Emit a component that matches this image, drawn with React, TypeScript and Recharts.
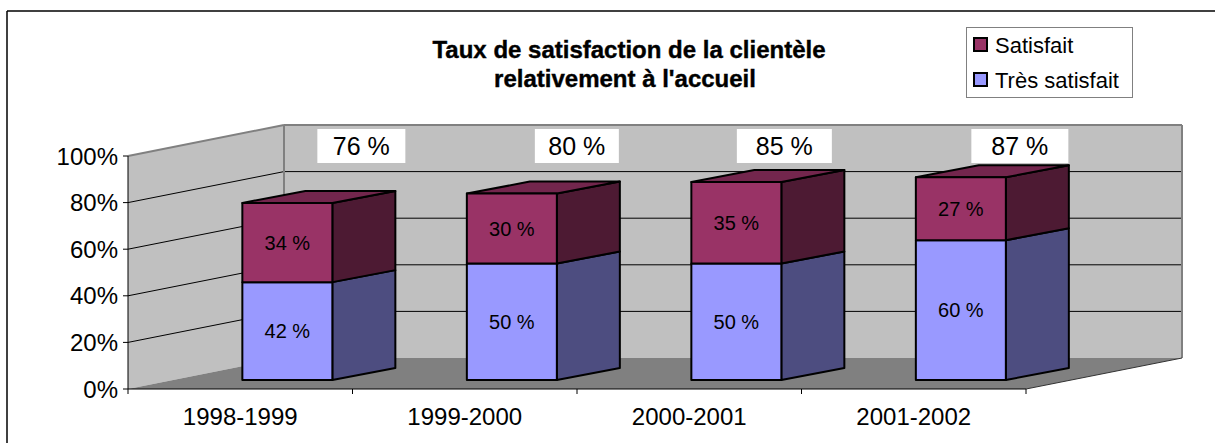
import { Bar, BarChart, LabelList, XAxis, YAxis } from 'recharts'

const years = ['1998-1999', '1999-2000', '2000-2001', '2001-2002']
const tresSatisfait = [42, 50, 50, 60]
const satisfait = [34, 30, 35, 27]
const yTicks = [0, 20, 40, 60, 80, 100]
const seriesNames = ['Satisfait', 'Très satisfait']

// layout of the fake 3d plot
const W = 1215
const H = 443
const LEFT = 128
const RIGHT = 1026
const TOP = 156
const BOTTOM = 389
const DEPTH_X = 156
const DEPTH_Y = -31
const BAR_SHIFT_X = 47
const BAR_SHIFT_Y = -9
const BAR_DX = 63
const BAR_DY = -12
const BAND = (RIGHT - LEFT) / years.length
// the total boxes in the original were nudged by hand
const totalNudge = [11, 2, -15, -4]
const totalWidth = [88, 84, 95, 97]

const colors = {
  tres: { front: '#9999ff', side: '#4d4d80', top: '#7373bf' },
  sat: { front: '#993366', side: '#4d1a33', top: '#73264d' },
}

const FONT = '"Liberation Sans", Arial, sans-serif'

const data = years.map((year, i) => ({ year, tres: tresSatisfait[i], sat: satisfait[i] }))
const totals = years.map((_, i) => tresSatisfait[i] + satisfait[i])

const yPix = (v: number) => BOTTOM - (v / 100) * (BOTTOM - TOP)

function Box3D(props: any) {
  const { x, y, width, height, c, showTop } = props
  const fx = x + BAR_SHIFT_X
  const fy = y + BAR_SHIFT_Y
  const w = width
  const h = height
  const side = `${fx + w},${fy} ${fx + w + BAR_DX},${fy + BAR_DY} ${fx + w + BAR_DX},${fy + h + BAR_DY} ${fx + w},${fy + h}`
  const top = `${fx},${fy} ${fx + BAR_DX},${fy + BAR_DY} ${fx + w + BAR_DX},${fy + BAR_DY} ${fx + w},${fy}`
  return (
    <g stroke="#000" strokeWidth={2} strokeLinejoin="round">
      <polygon points={side} fill={c.side} />
      {showTop && <polygon points={top} fill={c.top} />}
      <rect x={fx} y={fy} width={w} height={h} fill={c.front} />
    </g>
  )
}

const innerLabel = (values: number[]) => (props: any) => {
  const vb = props.viewBox || props
  const { x, y, width, height } = vb
  return (
    <text x={x + BAR_SHIFT_X + width / 2} y={y + BAR_SHIFT_Y + height / 2} textAnchor="middle"
      dominantBaseline="central" fontSize={20} fill="#000" fontFamily={FONT}>
      {values[props.index]} %
    </text>
  )
}

const totalLabel = (props: any) => {
  const vb = props.viewBox || props
  const { x, width } = vb
  const i = props.index
  const cx = x + BAR_SHIFT_X + width / 2 + BAR_DX + totalNudge[i]
  const bw = totalWidth[i]
  return (
    <g>
      <rect x={cx - bw / 2} y={TOP - 27} width={bw} height={34} fill="#fff" />
      <text x={cx} y={TOP - 10} textAnchor="middle" dominantBaseline="central" fontSize={25}
        fill="#000" fontFamily={FONT}>
        {totals[i]} %
      </text>
    </g>
  )
}

const XTick = (props: any) => {
  const { x, y, payload, index } = props
  return (
    <g>
      <line x1={x - BAND / 2} y1={BOTTOM} x2={x - BAND / 2} y2={BOTTOM + 5} stroke="#000" />
      {index === years.length - 1 && (
        <line x1={x + BAND / 2} y1={BOTTOM} x2={x + BAND / 2} y2={BOTTOM + 5} stroke="#000" />
      )}
      <text x={x} y={y + 11} dy="0.71em" textAnchor="middle" fontSize={24} fill="#000" fontFamily={FONT}>
        {payload.value}
      </text>
    </g>
  )
}

function Backdrop() {
  const bx = LEFT + DEPTH_X
  const bTop = TOP + DEPTH_Y
  const bBottom = BOTTOM + DEPTH_Y
  const bRight = RIGHT + DEPTH_X
  return (
    <svg width={W} height={H} style={{ position: 'absolute', left: 0, top: 0 }}>
      <line x1={7} y1={11} x2={W} y2={11} stroke="#000" strokeWidth={1.5} />
      <line x1={7} y1={11} x2={7} y2={H} stroke="#000" strokeWidth={1.5} />

      <polygon points={`${LEFT},${TOP} ${bx},${bTop} ${bx},${bBottom} ${LEFT},${BOTTOM}`} fill="#c0c0c0" />
      <rect x={bx} y={bTop} width={bRight - bx} height={bBottom - bTop} fill="#c0c0c0" />
      <polygon points={`${LEFT},${BOTTOM} ${RIGHT},${BOTTOM} ${bRight},${bBottom} ${bx},${bBottom}`} fill="#808080" />

      {yTicks.slice(1, -1).map((v) => (
        <g key={v} stroke="#000" strokeWidth={1}>
          <line x1={LEFT} y1={yPix(v)} x2={bx} y2={yPix(v) + DEPTH_Y} />
          <line x1={bx} y1={yPix(v) + DEPTH_Y} x2={bRight} y2={yPix(v) + DEPTH_Y} />
        </g>
      ))}

      <g stroke="#808080" strokeWidth={2} fill="none">
        <line x1={LEFT} y1={TOP} x2={bx} y2={bTop} />
        <line x1={bx} y1={bTop} x2={bRight} y2={bTop} />
        <line x1={bRight} y1={bTop} x2={bRight} y2={bBottom} />
        <line x1={bx} y1={bTop} x2={bx} y2={bBottom} />
      </g>
      <line x1={RIGHT} y1={BOTTOM} x2={bRight} y2={bBottom} stroke="#333" strokeWidth={1} />

      <g fontFamily={FONT} fontWeight="bold" fontSize={24} textAnchor="middle" fill="#000" stroke="#000" strokeWidth={0.4}>
        <text x={629} y={58}>Taux de satisfaction de la clientèle</text>
        <text x={625} y={87}>relativement à l'accueil</text>
      </g>

      <rect x={966.5} y={27.5} width={166} height={70} fill="#fff" stroke="#808080" strokeWidth={1} />
      {seriesNames.map((name, i) => (
        <g key={name}>
          <rect x={974} y={38 + i * 35} width={13} height={13} fill={i === 0 ? colors.sat.front : colors.tres.front}
            stroke="#000" strokeWidth={2} />
          <text x={995} y={45 + i * 35} dominantBaseline="central" fontSize={22} fontFamily={FONT} fill="#000">
            {name}
          </text>
        </g>
      ))}
    </svg>
  )
}

export default function App() {
  return (
    <div style={{ position: 'absolute', left: 0, top: 0, width: W, height: H, fontFamily: FONT, background: '#fff' }}>
      <Backdrop />
      <div style={{ position: 'absolute', left: 0, top: 0 }}>
        <BarChart width={W} height={H} data={data} margin={{ top: TOP, right: W - RIGHT, left: 0, bottom: 0 }}
          barCategoryGap="30%">
          <XAxis dataKey="year" height={H - BOTTOM} axisLine={{ stroke: '#000' }} tickLine={false}
            tick={<XTick />} interval={0} />
          <YAxis width={LEFT} domain={[0, 100]} ticks={yTicks} tickFormatter={(v) => `${v}%`}
            axisLine={{ stroke: '#000' }} tickLine={{ stroke: '#000' }} tickSize={5} tickMargin={5}
            tick={{ fontSize: 24, fill: '#000' }} interval={0} />
          <Bar dataKey="tres" name={seriesNames[1]} stackId="a" isAnimationActive={false}
            shape={(p: any) => <Box3D {...p} c={colors.tres} showTop={false} />}>
            <LabelList dataKey="tres" content={innerLabel(tresSatisfait)} />
          </Bar>
          <Bar dataKey="sat" name={seriesNames[0]} stackId="a" isAnimationActive={false}
            shape={(p: any) => <Box3D {...p} c={colors.sat} showTop={true} />}>
            <LabelList dataKey="sat" content={innerLabel(satisfait)} />
            <LabelList dataKey="sat" content={totalLabel} />
          </Bar>
        </BarChart>
      </div>
    </div>
  )
}
